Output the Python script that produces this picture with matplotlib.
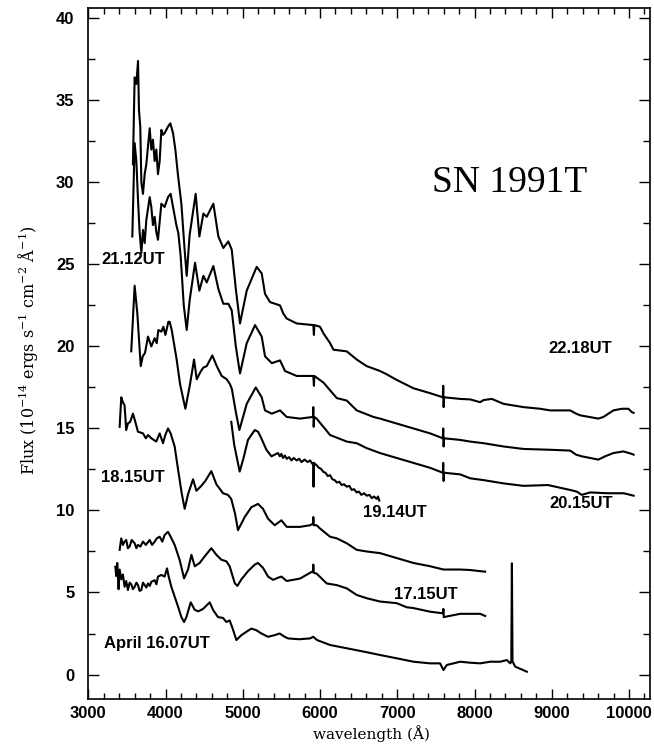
import matplotlib
matplotlib.use("Agg")
import matplotlib.pyplot as plt
from matplotlib.ticker import MultipleLocator

# ---------------- data (wavelength in Angstrom, flux in 1e-14 units) ----------------
wl_2218 = [3578, 3600, 3622, 3644, 3656, 3673, 3687, 3708, 3730, 3751, 3795, 3816, 3837, 3859,
           3881, 3902, 3924, 3946, 3967, 3988, 4032, 4062, 4097, 4127, 4162, 4205, 4247, 4274,
           4312, 4390, 4438, 4490, 4533, 4619, 4684, 4748, 4813, 4857, 4910, 4964, 5051, 5180,
           5245, 5288, 5353, 5482, 5525, 5569, 5698, 5913, 5921, 5926, 6000, 6044, 6130, 6174,
           6346, 6475, 6604, 6777, 6863, 6992, 7209, 7425, 7590, 7595, 7600, 7606, 7814, 7944,
           8073, 8117, 8224, 8376, 8634, 8849, 8979, 9238, 9316, 9367, 9604, 9669, 9798, 9906,
           9992, 10036, 10060]
fx_2218 = [31.1, 36.4, 36.0, 37.4, 34.4, 33.4, 30.0, 29.3, 30.5, 31.1, 33.3, 32.0, 32.6, 31.3,
           32.0, 30.5, 31.3, 33.2, 32.9, 33.0, 33.4, 33.6, 33.0, 32.0, 30.4, 28.7, 25.9, 24.3,
           26.8, 29.3, 26.7, 28.1, 27.9, 28.7, 26.7, 26.0, 26.4, 25.9, 23.5, 21.4, 23.4, 24.85,
           24.45, 23.2, 22.7, 22.5, 22.0, 21.7, 21.4, 21.3, 20.7, 21.3, 21.2, 20.8, 20.2, 19.8,
           19.7, 19.2, 18.8, 18.5, 18.3, 17.96, 17.45, 17.15, 16.9, 17.6, 16.3, 16.9, 16.8, 16.77,
           16.6, 16.73, 16.8, 16.5, 16.3, 16.2, 16.1, 16.1, 15.9, 15.8, 15.6, 15.7, 16.1, 16.2,
           16.2, 16.0, 15.95]

wl_2112 = [3570, 3600, 3622, 3644, 3664, 3687, 3708, 3730, 3751, 3795, 3816, 3837, 3859, 3880,
           3902, 3924, 3946, 3988, 4032, 4066, 4097, 4140, 4166, 4196, 4236, 4274, 4312, 4382,
           4438, 4490, 4533, 4619, 4684, 4748, 4813, 4857, 4910, 4964, 5051, 5159, 5245, 5288,
           5375, 5482, 5547, 5698, 5913, 5921, 5926, 6044, 6217, 6346, 6475, 6692, 6777, 6992,
           7209, 7425, 7590, 7595, 7600, 7606, 7814, 7944, 8117, 8376, 8634, 8979, 9238, 9316,
           9389, 9604, 9690, 9798, 9927, 10036, 10060]
fx_2112 = [26.7, 32.4, 31.3, 28.9, 27.0, 25.7, 27.1, 26.3, 27.7, 29.1, 28.5, 27.4, 27.9, 27.0,
           26.5, 27.6, 28.7, 28.5, 29.1, 29.3, 28.5, 27.4, 26.9, 25.5, 22.5, 21.0, 22.8, 25.1,
           23.4, 24.3, 23.9, 24.9, 23.5, 22.6, 22.6, 22.2, 20.0, 18.35, 20.2, 21.3, 20.6, 19.4,
           18.98, 19.15, 18.5, 18.2, 18.2, 17.6, 18.2, 17.8, 16.85, 16.7, 16.1, 15.7, 15.6, 15.3,
           15.0, 14.7, 14.4, 15.0, 13.9, 14.4, 14.3, 14.2, 14.1, 13.9, 13.75, 13.7, 13.65, 13.4,
           13.3, 13.1, 13.3, 13.5, 13.6, 13.45, 13.4]

wl_2015 = [3556, 3600, 3635, 3679, 3705, 3734, 3773, 3816, 3859, 3886, 3907, 3946, 3972, 3998,
           4037, 4054, 4080, 4144, 4188, 4257, 4317, 4369, 4404, 4447, 4486, 4533, 4606, 4663,
           4727, 4792, 4834, 4859, 4910, 4956, 5051, 5168, 5245, 5288, 5375, 5482, 5569, 5742,
           5908, 5913, 5918, 5924, 5956, 6130, 6346, 6475, 6604, 6777, 6992, 7209, 7425, 7590,
           7595, 7600, 7606, 7814, 7944, 8117, 8376, 8634, 8951, 9238, 9324, 9389, 9498, 9716,
           9932, 10060]
fx_2015 = [19.7, 23.7, 22.0, 18.8, 19.4, 19.6, 20.6, 20.0, 20.5, 20.2, 21.0, 20.9, 21.2, 20.7,
           21.5, 21.5, 21.0, 19.2, 17.7, 16.2, 17.7, 19.2, 18.0, 18.4, 18.7, 18.8, 19.45, 18.8,
           18.2, 18.0, 17.7, 17.4, 16.0, 14.9, 16.5, 17.5, 16.9, 16.1, 15.9, 16.1, 15.7, 15.6,
           15.7, 16.3, 15.1, 15.7, 15.6, 14.6, 14.2, 14.1, 13.8, 13.5, 13.2, 12.9, 12.6, 12.3,
           12.9, 11.8, 12.3, 12.2, 11.96, 11.85, 11.65, 11.5, 11.55, 11.25, 11.15, 10.95, 11.1,
           11.05, 11.05, 10.9]

wl_1914 = [4851, 4889, 4960, 5010, 5067, 5155, 5198, 5240, 5306, 5371, 5456, 5480, 5500, 5521,
           5545, 5570, 5600, 5630, 5660, 5698, 5730, 5760, 5800, 5840, 5871, 5900, 5913, 5916,
           5921, 5957, 5985, 6010, 6044, 6070, 6100, 6130, 6160, 6190, 6217, 6250, 6280, 6310,
           6346, 6380, 6410, 6440, 6475, 6505, 6535, 6570, 6604, 6640, 6670, 6700, 6734, 6750,
           6768]
fx_1914 = [15.4, 14.0, 12.37, 13.2, 14.3, 14.9, 14.8, 14.4, 13.7, 13.3, 13.5, 13.3, 13.45, 13.2,
           13.35, 13.15, 13.25, 13.05, 13.2, 13.05, 13.15, 12.95, 13.1, 12.95, 13.05, 12.85, 12.9,
           11.45, 12.9, 12.75, 12.6, 12.55, 12.35, 12.3, 12.1, 12.15, 11.9, 11.85, 11.7, 11.75,
           11.55, 11.6, 11.45, 11.5, 11.25, 11.3, 11.1, 11.15, 10.95, 11.05, 10.9, 10.95, 10.75,
           10.85, 10.7, 10.85, 10.6]

wl_1815 = [3406, 3427, 3448, 3470, 3491, 3513, 3542, 3578, 3603, 3643, 3708, 3745, 3773, 3816,
           3880, 3924, 3967, 3997, 4032, 4066, 4118, 4162, 4211, 4248, 4292, 4356, 4400, 4463,
           4515, 4593, 4658, 4744, 4808, 4851, 4900, 4938, 5025, 5111, 5197, 5262, 5327, 5413,
           5500, 5569, 5742, 5871, 5910, 5913, 5918, 5956, 6000, 6130, 6217, 6346, 6475, 6604,
           6777, 6992, 7209, 7425, 7598, 7814, 7944, 8073, 8138]
fx_1815 = [15.1, 16.9, 16.6, 16.4, 14.9, 15.3, 15.4, 15.9, 15.5, 14.8, 14.7, 14.4, 14.6, 14.4,
           14.2, 14.7, 14.1, 14.6, 15.0, 14.7, 13.9, 12.5, 11.0, 10.1, 11.0, 11.9, 11.2, 11.5,
           11.8, 12.4, 11.6, 11.05, 10.95, 10.7, 9.8, 8.8, 9.6, 10.2, 10.4, 10.1, 9.5, 9.1,
           9.4, 9.0, 9.0, 9.1, 9.2, 9.6, 9.1, 9.1, 8.9, 8.4, 8.3, 8.0, 7.6, 7.5,
           7.4, 7.1, 6.8, 6.6, 6.4, 6.4, 6.37, 6.3, 6.27]

wl_1715 = [3406, 3427, 3448, 3470, 3491, 3513, 3535, 3562, 3600, 3623, 3643, 3675, 3708, 3745,
           3795, 3826, 3859, 3887, 3924, 3958, 3988, 4032, 4066, 4118, 4183, 4240, 4291, 4335,
           4378, 4442, 4507, 4593, 4658, 4722, 4787, 4830, 4896, 4930, 4982, 5068, 5155, 5197,
           5262, 5327, 5392, 5456, 5500, 5569, 5742, 5871, 5910, 5913, 5918, 5956, 6087, 6217,
           6346, 6475, 6604, 6777, 6992, 7122, 7209, 7425, 7592, 7597, 7602, 7814, 8073, 8138]
fx_1715 = [7.6, 8.3, 7.9, 8.1, 8.2, 7.7, 7.8, 8.2, 8.0, 7.7, 7.9, 7.8, 8.1, 7.9,
           8.2, 7.9, 8.1, 8.3, 8.4, 8.1, 8.5, 8.7, 8.4, 7.9, 6.98, 5.86, 6.4, 7.3,
           6.6, 6.8, 7.2, 7.7, 7.3, 7.0, 6.9, 6.6, 5.57, 5.4, 5.8, 6.3, 6.7, 6.8,
           6.5, 5.97, 5.77, 5.9, 5.97, 5.7, 5.85, 6.2, 6.3, 6.7, 6.2, 6.15, 5.55, 5.45,
           5.25, 4.85, 4.65, 4.45, 4.35, 4.1, 4.05, 3.83, 3.73, 4.0, 3.5, 3.7, 3.7, 3.57]

wl_1607 = [3350, 3362, 3375, 3392, 3406, 3427, 3448, 3470, 3491, 3513, 3535, 3556, 3578, 3600,
           3623, 3643, 3664, 3687, 3708, 3730, 3751, 3773, 3796, 3816, 3859, 3882, 3902, 3946,
           3988, 4019, 4041, 4075, 4118, 4162, 4205, 4240, 4270, 4326, 4378, 4424, 4486, 4572,
           4615, 4679, 4744, 4788, 4830, 4869, 4917, 4982, 5046, 5111, 5176, 5241, 5327, 5413,
           5477, 5542, 5586, 5730, 5871, 5913, 5962, 6130, 6346, 6561, 6777, 6992, 7209, 7425,
           7554, 7598, 7641, 7814, 7944, 8073, 8203, 8333, 8419, 8463, 8476, 8484, 8492, 8527,
           8678]
fx_1607 = [6.57, 6.0, 6.8, 5.2, 6.4, 5.8, 6.1, 5.35, 5.7, 5.15, 5.6, 5.5, 5.2, 5.35,
           5.6, 5.45, 5.1, 5.15, 5.6, 5.45, 5.3, 5.55, 5.4, 5.65, 5.75, 5.5, 5.97, 6.07,
           5.97, 6.47, 5.97, 5.35, 4.75, 4.14, 3.5, 3.2, 3.5, 4.4, 3.94, 3.85, 4.0, 4.4,
           3.94, 3.5, 3.45, 3.2, 3.3, 2.8, 2.1, 2.4, 2.6, 2.8, 2.7, 2.5, 2.3, 2.4,
           2.5, 2.3, 2.2, 2.15, 2.2, 2.3, 2.1, 1.8, 1.6, 1.4, 1.19, 0.99, 0.78, 0.68,
           0.68, 0.27, 0.58, 0.78, 0.72, 0.68, 0.78, 0.78, 0.88, 0.68, 0.8, 6.78, 0.8, 0.48,
           0.17]

spectra = [(wl_2218, fx_2218), (wl_2112, fx_2112), (wl_2015, fx_2015), (wl_1914, fx_1914),
           (wl_1815, fx_1815), (wl_1715, fx_1715), (wl_1607, fx_1607)]

epoch_labels = ["22.18UT", "21.12UT", "20.15UT", "19.14UT", "18.15UT", "17.15UT", "April 16.07UT"]
label_pos = [(9368, 19.85), (3579, 25.3), (9380, 10.4), (6972, 9.85), (3579, 12.0),
             (7373, 4.9), (3890, 1.92)]

x_ticks = [3000, 4000, 5000, 6000, 7000, 8000, 9000, 10000]
y_ticks = [0, 5, 10, 15, 20, 25, 30, 35, 40]
title_text = "SN 1991T"

# ---------------- drawing ----------------
plt.rcParams['mathtext.fontset'] = 'dejavuserif'

fig = plt.figure(figsize=(6.54, 7.44), dpi=100)
ax = fig.add_axes([0.1350, 0.0601, 0.8589, 0.9285])

for wl, fx in spectra:
    ax.plot(wl, fx, color='black', lw=1.5, solid_joinstyle='round')

ax.set_xlim(3000, 10272)
ax.set_ylim(-1.51, 40.6)
ax.set_xticks(x_ticks)
ax.set_yticks(y_ticks)
ax.xaxis.set_minor_locator(MultipleLocator(200))
ax.yaxis.set_minor_locator(MultipleLocator(2.5))
ax.tick_params(which='both', direction='in', top=True, right=True, width=1.0, color='black')
ax.tick_params(axis='x', which='major', length=7, pad=5)
ax.tick_params(axis='x', which='minor', length=4)
ax.tick_params(axis='y', which='major', length=8, pad=10)
ax.tick_params(axis='y', which='minor', length=5)
for lab in ax.get_xticklabels() + ax.get_yticklabels():
    lab.set_fontfamily('Liberation Sans')
    lab.set_fontweight('bold')
    lab.set_fontsize(12)
for sp in ax.spines.values():
    sp.set_linewidth(1.2)

ax.set_xlabel("wavelength (Å)", family='DejaVu Serif', fontsize=11, va='bottom')
ax.xaxis.set_label_coords(0.505, -0.0625)
ax.set_ylabel(r"Flux (10$^{-14}$ ergs s$^{-1}$ cm$^{-2}$ Å$^{-1}$)", family='DejaVu Serif',
              fontsize=11.5, va='center')
ax.yaxis.set_label_coords(-0.107, 0.505)

for txt, (x, y) in zip(epoch_labels, label_pos):
    ax.text(x, y, txt, ha='center', va='center', family='Liberation Sans',
            fontweight='bold', fontsize=12)

ax.text(8461, 29.97, title_text, ha='center', va='center', family='Liberation Serif',
        fontsize=27)

fig.savefig("out.png", dpi=100)
